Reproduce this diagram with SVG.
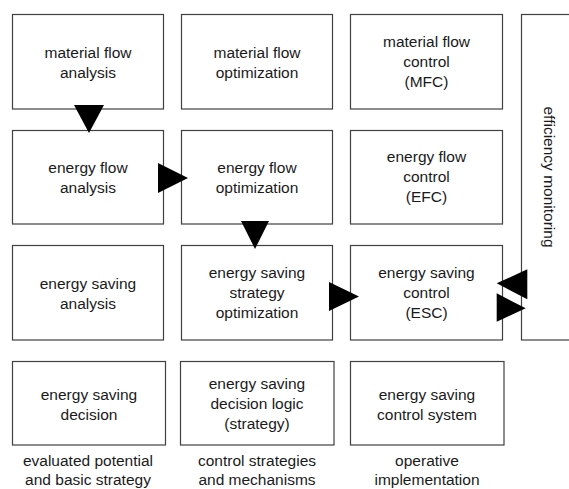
<svg xmlns="http://www.w3.org/2000/svg" width="569" height="489" viewBox="0 0 569 489">
<style>
.box{fill:#fff;stroke:#404040;stroke-width:1.2}
.t{font-family:"Liberation Sans",Arial,sans-serif;font-size:15.5px;fill:#1a1a1a;text-anchor:middle}
.cap{font-family:"Liberation Sans",Arial,sans-serif;font-size:15.5px;fill:#1a1a1a;text-anchor:middle}
.arr{fill:#000;stroke:none}
</style>
<rect width="569" height="489" fill="#fff"/>
<g id="mfa"><rect class="box" x="12.5" y="14.5" width="151" height="94.5"/><text class="t" x="88" y="58">material flow</text><text class="t" x="88" y="78">analysis</text></g>
<g id="mfo"><rect class="box" x="181.5" y="14.5" width="151" height="94.5"/><text class="t" x="257" y="58">material flow</text><text class="t" x="257" y="78">optimization</text></g>
<g id="mfc"><rect class="box" x="350.5" y="14.5" width="152" height="94.5"/><text class="t" x="426.5" y="47">material flow</text><text class="t" x="426.5" y="67">control</text><text class="t" x="426.5" y="87">(MFC)</text></g>
<g id="efa"><rect class="box" x="12.5" y="130.5" width="151" height="93.5"/><text class="t" x="88" y="173">energy flow</text><text class="t" x="88" y="193">analysis</text></g>
<g id="efo"><rect class="box" x="181.5" y="130.5" width="151" height="93.5"/><text class="t" x="257" y="173">energy flow</text><text class="t" x="257" y="193">optimization</text></g>
<g id="efc"><rect class="box" x="350.5" y="130.5" width="152" height="93.5"/><text class="t" x="426.5" y="162">energy flow</text><text class="t" x="426.5" y="182">control</text><text class="t" x="426.5" y="202">(EFC)</text></g>
<g id="esa"><rect class="box" x="12.5" y="245.5" width="151" height="94.5"/><text class="t" x="88" y="289">energy saving</text><text class="t" x="88" y="309">analysis</text></g>
<g id="esso"><rect class="box" x="181.5" y="245.5" width="151" height="94.5"/><text class="t" x="257" y="278">energy saving</text><text class="t" x="257" y="298">strategy</text><text class="t" x="257" y="318">optimization</text></g>
<g id="esc"><rect class="box" x="350.5" y="245.5" width="152" height="94.5"/><text class="t" x="426.5" y="278">energy saving</text><text class="t" x="426.5" y="298">control</text><text class="t" x="426.5" y="318">(ESC)</text></g>
<g id="esd"><rect class="box" x="12.5" y="361.5" width="153" height="83.5"/><text class="t" x="89" y="400">energy saving</text><text class="t" x="89" y="420">decision</text></g>
<g id="esdl"><rect class="box" x="180.5" y="361.5" width="153.5" height="83.5"/><text class="t" x="257" y="389">energy saving</text><text class="t" x="257" y="409">decision logic</text><text class="t" x="257" y="429">(strategy)</text></g>
<g id="escs"><rect class="box" x="350.5" y="361.5" width="153.5" height="83.5"/><text class="t" x="427" y="400">energy saving</text><text class="t" x="427" y="420">control system</text></g>
<g id="em"><rect class="box" x="521.5" y="14.5" width="60" height="325.5"/><text class="t" transform="translate(549,177) rotate(90)" x="0" y="0" dominant-baseline="central" font-size="16">efficiency monitoring</text></g>
<g id="captions">
<text class="cap" x="88" y="466">evaluated potential</text><text class="cap" x="88" y="485">and basic strategy</text>
<text class="cap" x="257" y="466">control strategies</text><text class="cap" x="257" y="485">and mechanisms</text>
<text class="cap" x="427" y="466">operative</text><text class="cap" x="427" y="485">implementation</text>
</g>
<g id="connectors">
<polygon class="arr" points="74,105 104,105 89,133"/>
<polygon class="arr" points="158,163 158,193 188,178"/>
<polygon class="arr" points="241,221 269,221 255,249"/>
<polygon class="arr" points="329,282 329,311 359,296.5"/>
<polygon class="arr" points="527.3,269.3 527.3,299.3 496.7,283.3"/>
<polygon class="arr" points="496.7,293.3 496.7,321.7 525.7,308.3"/>
</g>
</svg>
